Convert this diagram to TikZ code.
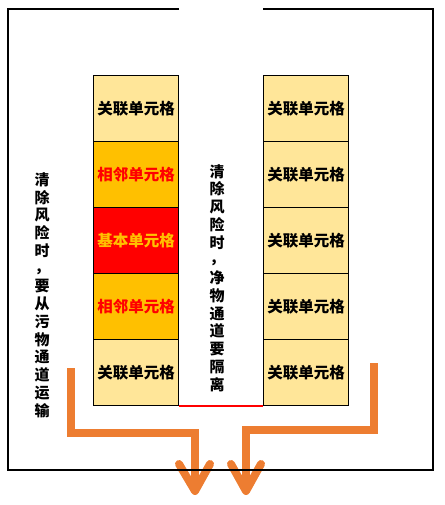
\documentclass[tikz,border=0pt]{standalone}
\usepackage{fontspec}
\newfontfamily\cjk{Noto Sans CJK SC}
\definecolor{cellyellow}{HTML}{FFE699}
\definecolor{cellorange}{HTML}{FFC000}
\definecolor{cellred}{HTML}{FF0000}
\definecolor{arroworange}{HTML}{ED7D31}
\begin{document}
\begin{tikzpicture}[x=1pt,y=-1pt,
  cellbox/.style={draw=black, line width=1pt, minimum width=85pt, minimum height=66pt,
    inner sep=0pt, anchor=north west, font=\cjk\bfseries\fontsize{15.5}{15.5}\selectfont},
  relcell/.style={cellbox, fill=cellyellow, text=black},
  adjcell/.style={cellbox, fill=cellorange, text=cellred},
  basecell/.style={cellbox, fill=cellred, text=cellorange},
  vtext/.style={align=center, inner sep=0pt, font=\cjk\bfseries\fontsize{15}{17.75}\selectfont},
  frameline/.style={line width=2pt, black},
  flowarrow/.style={line width=8pt, arroworange, line join=miter},
  arrowhead/.style={line width=8pt, arroworange, line cap=round, line join=round}]
\useasboundingbox (0,0) rectangle (444,505);

% arrows
\coordinate (L1) at (71,368);
\coordinate (L3) at (195,433);
\coordinate (L4) at (195,491);
\coordinate (LH1) at (179,464);
\coordinate (LH2) at (210,464);
\draw[flowarrow] (L1) |- (L3) -- (L4);
\draw[arrowhead] (LH1) -- (L4) -- (LH2);

\coordinate (R1) at (374,363);
\coordinate (R3) at (246,430);
\coordinate (R4) at (246,491);
\coordinate (RH1) at (231,464);
\coordinate (RH2) at (261,464);
\draw[flowarrow] (R1) |- (R3) -- (R4);
\draw[arrowhead] (RH1) -- (R4) -- (RH2);

% frame
\coordinate (F1) at (179,9);
\coordinate (F2) at (8,9);
\coordinate (F3) at (8,470);
\coordinate (F4) at (433,470);
\coordinate (F5) at (433,9);
\coordinate (F6) at (263,9);
\draw[frameline] (F1) -- (F2) -- (F3) -- (F4) -- (F5) -- (F6);

% left column
\node[relcell]  (a1) at (93,75)  {关联单元格};
\node[adjcell]  (a2) at (93,141) {相邻单元格};
\node[basecell] (a3) at (93,207) {基本单元格};
\node[adjcell]  (a4) at (93,273) {相邻单元格};
\node[relcell]  (a5) at (93,339) {关联单元格};

% right column
\node[relcell] (b1) at (263,75)  {关联单元格};
\node[relcell] (b2) at (263,141) {关联单元格};
\node[relcell] (b3) at (263,207) {关联单元格};
\node[relcell] (b4) at (263,273) {关联单元格};
\node[relcell] (b5) at (263,339) {关联单元格};

% red separation line
\draw[cellred, line width=2.5pt] (a5.south east) -- (b5.south west);

% vertical texts
\node[vtext] (mid) at (217,278) {清\\除\\风\\险\\时\\\raisebox{2pt}{，}\\净\\物\\通\\道\\要\\隔\\离};
\node[vtext] (left) at (42,295) {清\\除\\风\\险\\时\\\raisebox{2pt}{，}\\要\\从\\污\\物\\通\\道\\运\\输};
\end{tikzpicture}
\end{document}
